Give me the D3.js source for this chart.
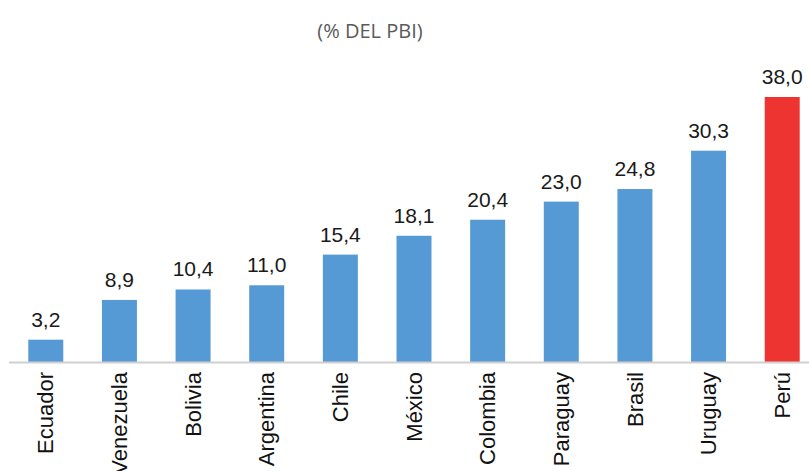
<!DOCTYPE html>
<html>
<head>
<meta charset="utf-8">
<script src="https://cdn.jsdelivr.net/npm/d3@7"></script>
<style>
  body { margin: 0; background: #fff; }
  svg { display: block; }
  .Title { font-family: "Open Sans", sans-serif; font-size: 20px; fill: #5a5a5a; }
  .Value { font-family: "Liberation Sans", Arial, sans-serif; font-size: 21px; fill: #1a1a1a; }
  .XAxis text { font-family: "Liberation Sans", Arial, sans-serif; font-size: 22px; fill: #111; }
</style>
</head>
<body>
<svg id="chart" width="809" height="471"></svg>
<script>
const countries = ["Ecuador", "Venezuela", "Bolivia", "Argentina", "Chile", "México", "Colombia", "Paraguay", "Brasil", "Uruguay", "Perú"];
const values = [3.2, 8.9, 10.4, 11.0, 15.4, 18.1, 20.4, 23.0, 24.8, 30.3, 38.0];
const highlight = "Perú";
const title = "(% DEL PBI)";

const width = 809;
const height = 471;
const margin = {top: 97, right: 0, bottom: 109, left: 9};

const svg = d3.select("#chart");

// Scales.

const xScale = d3.scaleBand()
  .domain(countries)
  .range([9, 819])
  .paddingInner(0.525)
  .paddingOuter(0.262);
const yScale = d3.scaleLinear()
  .domain([0, 38])
  .range([height - margin.bottom, margin.top]);

const data = countries.map((c, i) => ({country: c, value: values[i]}));

// Title.

svg.append("text")
  .attr("class", "Title")
  .attr("x", 370)
  .attr("y", 38)
  .attr("text-anchor", "middle")
  .text(title);

// Bars.

svg.append("g")
  .selectAll("rect")
  .data(data)
  .join("rect")
  .attr("x", (d) => xScale(d.country))
  .attr("y", (d) => yScale(d.value))
  .attr("width", xScale.bandwidth())
  .attr("height", (d) => yScale(0) - yScale(d.value))
  .attr("fill", (d) => d.country === highlight ? "#EE3430" : "#5599D5");

// Value labels.

svg.append("g")
  .selectAll("text")
  .data(data)
  .join("text")
  .attr("class", "Value")
  .attr("x", (d) => xScale(d.country) + xScale.bandwidth() / 2)
  .attr("y", (d) => yScale(d.value) - 13)
  .attr("text-anchor", "middle")
  .text((d) => d3.format(".1f")(d.value).replace(".", ","));

// Axis.

const xAxis = d3.axisBottom(xScale)
  .tickSize(0)
  .tickPadding(0);
const gXAxis = svg.append("g")
  .attr("class", "XAxis")
  .attr("transform", `translate(0, ${yScale(0)})`)
  .call(xAxis);
gXAxis.select(".domain")
  .attr("d", `M${margin.left},0.5H${width}`)
  .attr("stroke", "#d0d0d0")
  .attr("stroke-width", 2);
gXAxis.selectAll(".tick text")
  .attr("transform", "rotate(-90)")
  .attr("text-anchor", "end")
  .attr("x", -10)
  .attr("y", 0)
  .attr("dy", "0.35em");
</script>
</body>
</html>
